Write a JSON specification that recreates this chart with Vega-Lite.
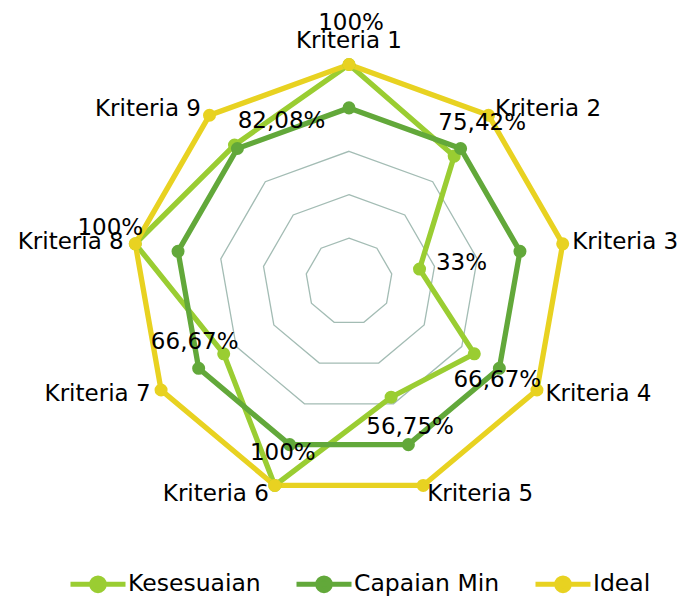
{
  "$schema": "https://vega.github.io/schema/vega-lite/v6.json",
  "width": 687,
  "height": 599,
  "autosize": "none",
  "padding": 0,
  "background": "white",
  "config": {
    "view": {"stroke": null},
    "text": {"font": "DejaVu Sans", "fontSize": 23, "color": "#000000"}
  },
  "datasets": {
    "radar": [
      {"k": 1, "kriteria": "Kriteria 1", "Kesesuaian": 100, "Capaian Min": 80, "Ideal": 100, "label": "100%"},
      {"k": 2, "kriteria": "Kriteria 2", "Kesesuaian": 75.42, "Capaian Min": 80, "Ideal": 100, "label": "75,42%"},
      {"k": 3, "kriteria": "Kriteria 3", "Kesesuaian": 33, "Capaian Min": 80, "Ideal": 100, "label": "33%"},
      {"k": 4, "kriteria": "Kriteria 4", "Kesesuaian": 66.67, "Capaian Min": 80, "Ideal": 100, "label": "66,67%"},
      {"k": 5, "kriteria": "Kriteria 5", "Kesesuaian": 56.75, "Capaian Min": 80, "Ideal": 100, "label": "56,75%"},
      {"k": 6, "kriteria": "Kriteria 6", "Kesesuaian": 100, "Capaian Min": 80, "Ideal": 100, "label": "100%"},
      {"k": 7, "kriteria": "Kriteria 7", "Kesesuaian": 66.67, "Capaian Min": 80, "Ideal": 100, "label": "66,67%"},
      {"k": 8, "kriteria": "Kriteria 8", "Kesesuaian": 100, "Capaian Min": 80, "Ideal": 100, "label": "100%"},
      {"k": 9, "kriteria": "Kriteria 9", "Kesesuaian": 82.08, "Capaian Min": 80, "Ideal": 100, "label": "82,08%"}
    ],
    "grid": [
      {"level": 20, "k": 1}, {"level": 20, "k": 2}, {"level": 20, "k": 3}, {"level": 20, "k": 4}, {"level": 20, "k": 5}, {"level": 20, "k": 6}, {"level": 20, "k": 7}, {"level": 20, "k": 8}, {"level": 20, "k": 9},
      {"level": 40, "k": 1}, {"level": 40, "k": 2}, {"level": 40, "k": 3}, {"level": 40, "k": 4}, {"level": 40, "k": 5}, {"level": 40, "k": 6}, {"level": 40, "k": 7}, {"level": 40, "k": 8}, {"level": 40, "k": 9},
      {"level": 60, "k": 1}, {"level": 60, "k": 2}, {"level": 60, "k": 3}, {"level": 60, "k": 4}, {"level": 60, "k": 5}, {"level": 60, "k": 6}, {"level": 60, "k": 7}, {"level": 60, "k": 8}, {"level": 60, "k": 9},
      {"level": 80, "k": 1}, {"level": 80, "k": 2}, {"level": 80, "k": 3}, {"level": 80, "k": 4}, {"level": 80, "k": 5}, {"level": 80, "k": 6}, {"level": 80, "k": 7}, {"level": 80, "k": 8}, {"level": 80, "k": 9},
      {"level": 100, "k": 1}, {"level": 100, "k": 2}, {"level": 100, "k": 3}, {"level": 100, "k": 4}, {"level": 100, "k": 5}, {"level": 100, "k": 6}, {"level": 100, "k": 7}, {"level": 100, "k": 8}, {"level": 100, "k": 9}
    ]
  },
  "encoding": {
    "x": {"field": "x", "type": "quantitative", "scale": {"domain": [-160.83, 155.76], "nice": false, "zero": false}, "axis": null},
    "y": {"field": "y", "type": "quantitative", "scale": {"domain": [-146.31, 129.72], "nice": false, "zero": false}, "axis": null}
  },
  "layer": [
    {
      "data": {"name": "grid"},
      "transform": [
        {"calculate": "(datum.k - 1) * 2 * PI / 9", "as": "ang"},
        {"calculate": "datum.level * sin(datum.ang)", "as": "x"},
        {"calculate": "datum.level * cos(datum.ang)", "as": "y"}
      ],
      "mark": {"type": "line", "interpolate": "linear-closed", "color": "#a3bcb4", "strokeWidth": 1.3},
      "encoding": {
        "detail": {"field": "level", "type": "nominal"},
        "order": {"field": "k", "type": "quantitative"}
      }
    },
    {
      "data": {"name": "radar"},
      "transform": [
        {"fold": ["Kesesuaian", "Capaian Min", "Ideal"], "as": ["series", "value"]},
        {"calculate": "(datum.k - 1) * 2 * PI / 9", "as": "ang"},
        {"calculate": "datum.value * sin(datum.ang)", "as": "x"},
        {"calculate": "datum.value * cos(datum.ang)", "as": "y"}
      ],
      "layer": [
        {
          "mark": {"type": "line", "interpolate": "linear-closed", "strokeWidth": 5.3},
          "encoding": {
            "color": {
              "field": "series", "type": "nominal",
              "scale": {"domain": ["Kesesuaian", "Capaian Min", "Ideal"], "range": ["#9acd32", "#62a83a", "#e8d221"]},
              "legend": {
                "orient": "none", "legendX": 68, "legendY": 554, "direction": "horizontal", "title": null,
                "symbolType": "M-1,0L1,0M-0.23,0A0.23,0.23,0,1,1,0.23,0A0.23,0.23,0,1,1,-0.23,0Z",
                "symbolSize": 3025, "symbolStrokeWidth": 5, "labelFont": "DejaVu Sans", "labelFontSize": 23.5,
                "labelColor": "#000000", "labelOffset": 0, "columnPadding": 25, "padding": 0,
                "encode": {"symbols": {"update": {"fill": {"scale": "color", "field": "value"}, "stroke": {"scale": "color", "field": "value"}, "strokeWidth": {"value": 5}}}}
              }
            },
            "order": {"field": "k", "type": "quantitative"}
          }
        },
        {
          "mark": {"type": "point", "filled": true, "size": 170, "opacity": 1},
          "encoding": {
            "color": {
              "field": "series", "type": "nominal",
              "scale": {"domain": ["Kesesuaian", "Capaian Min", "Ideal"], "range": ["#9acd32", "#62a83a", "#e8d221"]},
              "legend": {
                "orient": "none", "legendX": 68, "legendY": 554, "direction": "horizontal", "title": null,
                "symbolType": "M-1,0L1,0M-0.23,0A0.23,0.23,0,1,1,0.23,0A0.23,0.23,0,1,1,-0.23,0Z",
                "symbolSize": 3025, "symbolStrokeWidth": 5, "labelFont": "DejaVu Sans", "labelFontSize": 23.5,
                "labelColor": "#000000", "labelOffset": 0, "columnPadding": 25, "padding": 0,
                "encode": {"symbols": {"update": {"fill": {"scale": "color", "field": "value"}, "stroke": {"scale": "color", "field": "value"}, "strokeWidth": {"value": 5}}}}
              }
            }
          }
        }
      ]
    },
    {
      "data": {"name": "radar"},
      "transform": [
        {"calculate": "(datum.k - 1) * 2 * PI / 9", "as": "ang"},
        {"calculate": "datum.Kesesuaian * sin(datum.ang)", "as": "x"},
        {"calculate": "datum.Kesesuaian * cos(datum.ang)", "as": "y"}
      ],
      "encoding": {"text": {"field": "label", "type": "nominal"}},
      "layer": [
        {"transform": [{"filter": "datum.k == 1"}], "mark": {"type": "text", "dx": 2, "dy": -41}},
        {"transform": [{"filter": "datum.k == 2"}], "mark": {"type": "text", "dx": 28, "dy": -33}},
        {"transform": [{"filter": "datum.k == 3"}], "mark": {"type": "text", "dx": 42, "dy": -6}},
        {"transform": [{"filter": "datum.k == 4"}], "mark": {"type": "text", "dx": 23, "dy": 26}},
        {"transform": [{"filter": "datum.k == 5"}], "mark": {"type": "text", "dx": 19, "dy": 30}},
        {"transform": [{"filter": "datum.k == 6"}], "mark": {"type": "text", "dx": 8, "dy": -32}},
        {"transform": [{"filter": "datum.k == 7"}], "mark": {"type": "text", "dx": -29, "dy": -12}},
        {"transform": [{"filter": "datum.k == 8"}], "mark": {"type": "text", "dx": -25, "dy": -16}},
        {"transform": [{"filter": "datum.k == 9"}], "mark": {"type": "text", "dx": 47, "dy": -24}}
      ]
    },
    {
      "data": {"name": "radar"},
      "transform": [
        {"calculate": "(datum.k - 1) * 2 * PI / 9", "as": "ang"},
        {"calculate": "104 * sin(datum.ang)", "as": "x"},
        {"calculate": "104 * cos(datum.ang)", "as": "y"}
      ],
      "encoding": {"text": {"field": "kriteria", "type": "nominal"}},
      "layer": [
        {"transform": [{"filter": "datum.k == 1"}], "mark": {"type": "text", "align": "center", "dy": -15}},
        {"transform": [{"filter": "datum.k >= 2 && datum.k <= 5"}], "mark": {"type": "text", "align": "left", "dx": 1}},
        {"transform": [{"filter": "datum.k >= 6"}], "mark": {"type": "text", "align": "right", "dx": -3}}
      ]
    }
  ]
}
